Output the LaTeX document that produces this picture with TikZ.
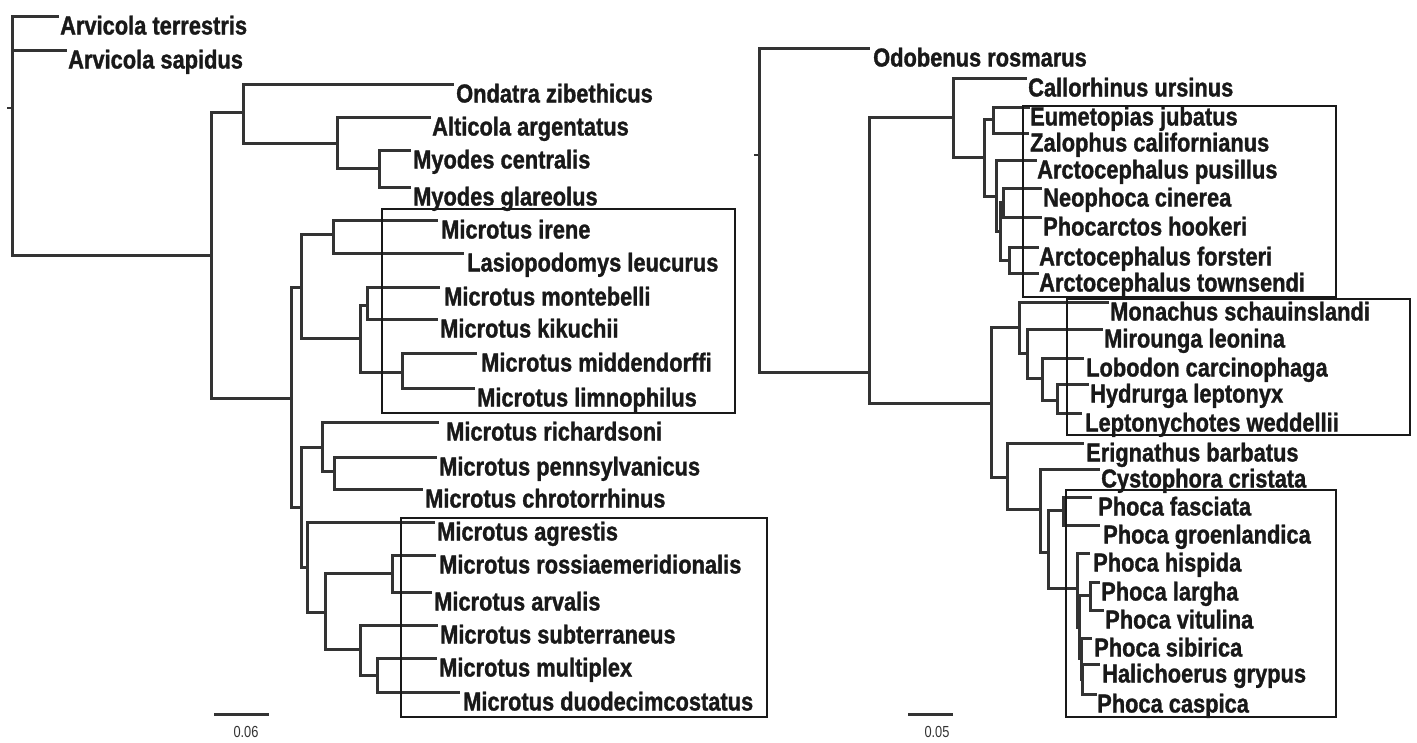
\documentclass[tikz,border=0pt]{standalone}
\usepackage{fontspec}
\newfontfamily\labfont{Liberation Sans}[FakeStretch=0.84,FakeBold=1.2]
\newfontfamily\sbfont{Liberation Sans}[FakeStretch=0.8]
\definecolor{treegray}{gray}{0.2}
\tikzset{
  br/.style={draw=treegray, line width=3pt, line cap=rect},
  lab/.style={anchor=base west, inner sep=0pt, font=\labfont\bfseries\fontsize{26}{26}\selectfont, text=black!90},
  framebox/.style={draw=black!90, line width=1.8pt},
  sblab/.style={inner sep=0pt, font=\sbfont\fontsize{16}{16}\selectfont, text=black!80},
  tick/.style={draw=treegray, line width=2.4pt}
}
% leaf: name, x0, y, x1, labelx, text
\newcommand\leaf[6]{\draw[br] (#2,#3) -- (#4,#3);
  \node[lab] (#1) at (#5,#3+18.5) {#6};}
% internal node: x, ytop, ybottom
\newcommand\vl[3]{\draw[br] (#1,#2) -- (#1,#3);}
% horizontal: x0, x1, y
\newcommand\hl[3]{\draw[br] (#1,#3) -- (#2,#3);}
\begin{document}
\begin{tikzpicture}[x=1pt,y=-1pt]
\useasboundingbox (0,0) rectangle (1417,742);
\fill[white] (0,0) rectangle (1417,742);

% ================= LEFT TREE =================
\draw[tick] (7,108) -- (12,108);
\vl{12}{16}{255}
\leaf{at}{12}{16}{57}{60}{Arvicola terrestris}
\leaf{as}{12}{50}{65}{68}{Arvicola sapidus}
\hl{12}{211}{255}
\vl{211}{112}{398}
\hl{211}{243}{112}
\vl{243}{84}{143}
\leaf{oz}{243}{84}{452}{456}{Ondatra zibethicus}
\hl{243}{337}{143}
\vl{337}{117}{168}
\leaf{aa}{337}{117}{429}{432}{Alticola argentatus}
\hl{337}{379}{168}
\vl{379}{150}{187}
\leaf{mc}{379}{150}{409}{413}{Myodes centralis}
\leaf{mg}{379}{187}{409}{413}{Myodes glareolus}
\hl{211}{291}{398}
\vl{291}{287}{507}
\hl{291}{301}{287}
\vl{301}{234}{338}
\hl{301}{333}{234}
\vl{333}{220}{253}
\leaf{mi}{333}{220}{436}{441}{Microtus irene}
\leaf{ll}{333}{253}{462}{467}{Lasiopodomys leucurus}
\hl{301}{360}{338}
\vl{360}{305}{372}
\hl{360}{367}{305}
\vl{367}{287}{319}
\leaf{mmo}{367}{287}{438}{444}{Microtus montebelli}
\leaf{mk}{367}{319}{436}{440}{Microtus kikuchii}
\hl{360}{402}{372}
\vl{402}{353}{388}
\leaf{mmi}{402}{353}{475}{481}{Microtus middendorffi}
\leaf{mli}{402}{388}{473}{477}{Microtus limnophilus}
\hl{291}{301}{507}
\vl{301}{447}{567}
\hl{301}{322}{447}
\vl{322}{422}{471}
\leaf{mr}{322}{422}{437}{446}{Microtus richardsoni}
\hl{322}{334}{471}
\vl{334}{457}{489}
\leaf{mp}{334}{457}{435}{439}{Microtus pennsylvanicus}
\leaf{mch}{334}{489}{421}{425}{Microtus chrotorrhinus}
\hl{301}{307}{567}
\vl{307}{522}{612}
\leaf{mag}{307}{522}{433}{437}{Microtus agrestis}
\hl{307}{325}{612}
\vl{325}{573}{649}
\hl{325}{392}{573}
\vl{392}{555}{592}
\leaf{mro}{392}{555}{434}{439}{Microtus rossiaemeridionalis}
\leaf{mar}{392}{592}{430}{434}{Microtus arvalis}
\hl{325}{360}{649}
\vl{360}{625}{675}
\leaf{msu}{360}{625}{436}{440}{Microtus subterraneus}
\hl{360}{377}{675}
\vl{377}{658}{692}
\leaf{mmu}{377}{658}{435}{439}{Microtus multiplex}
\leaf{mdu}{377}{692}{458}{463}{Microtus duodecimcostatus}

\draw[framebox] (382,209) rectangle (735,413);
\draw[framebox] (401,518) rectangle (767,717);

\coordinate (sbl1) at (214,714);
\coordinate (sbl2) at (269,714);
\draw[br, line cap=butt] (sbl1) -- (sbl2);
\node[sblab] (sbll) at (246,732) {0.06};

% ================= RIGHT TREE =================
\draw[tick] (754,155) -- (759,155);
\vl{759}{48}{372}
\leaf{or}{759}{48}{868}{873}{Odobenus rosmarus}
\hl{759}{869}{372}
\vl{869}{117}{403}
\hl{869}{953}{117}
\vl{953}{78}{157}
\leaf{cu}{953}{78}{1025}{1028}{Callorhinus ursinus}
\hl{953}{984}{157}
\vl{984}{119}{196}
\hl{984}{993}{119}
\vl{993}{107}{133}
\leaf{ej}{993}{107}{1028}{1030}{Eumetopias jubatus}
\leaf{zc}{993}{133}{1027}{1030}{Zalophus californianus}
\hl{984}{996}{196}
\vl{996}{160}{231}
\leaf{ap}{996}{160}{1035}{1037}{Arctocephalus pusillus}
\hl{996}{1000}{231}
\vl{1000}{202}{260}
\hl{1000}{1003}{202}
\vl{1003}{188}{217}
\leaf{nc}{1003}{188}{1040}{1043}{Neophoca cinerea}
\leaf{ph}{1003}{217}{1040}{1043}{Phocarctos hookeri}
\hl{1000}{1009}{260}
\vl{1009}{247}{273}
\leaf{af}{1009}{247}{1037}{1039}{Arctocephalus forsteri}
\leaf{at2}{1009}{273}{1037}{1039}{Arctocephalus townsendi}

\hl{869}{991}{403}
\vl{991}{327}{477}
\hl{991}{1019}{327}
\vl{1019}{302}{353}
\leaf{ms}{1019}{302}{1107}{1110}{Monachus schauinslandi}
\hl{1019}{1027}{353}
\vl{1027}{329}{378}
\leaf{ml}{1027}{329}{1101}{1104}{Mirounga leonina}
\hl{1027}{1042}{378}
\vl{1042}{358}{400}
\leaf{lc}{1042}{358}{1082}{1086}{Lobodon carcinophaga}
\hl{1042}{1057}{400}
\vl{1057}{384}{413}
\leaf{hl}{1057}{384}{1087}{1090}{Hydrurga leptonyx}
\leaf{lw}{1057}{413}{1080}{1085}{Leptonychotes weddellii}

\hl{991}{1007}{477}
\vl{1007}{443}{509}
\leaf{eb}{1007}{443}{1082}{1086}{Erignathus barbatus}
\hl{1007}{1040}{509}
\vl{1040}{469}{552}
\leaf{cc}{1040}{469}{1098}{1101}{Cystophora cristata}
\hl{1040}{1048}{552}
\vl{1048}{510}{588}
\hl{1048}{1063}{510}
\vl{1063}{497}{525}
\leaf{pf}{1063}{497}{1090}{1098}{Phoca fasciata}
\leaf{pg}{1063}{525}{1098}{1103}{Phoca groenlandica}
\hl{1048}{1077}{588}
\vl{1077}{553}{627}
\leaf{phi}{1077}{553}{1088}{1093}{Phoca hispida}
\hl{1077}{1079}{627}
\vl{1079}{595}{658}
\hl{1079}{1090}{595}
\vl{1090}{582}{610}
\leaf{pl}{1090}{582}{1098}{1101}{Phoca largha}
\leaf{pv}{1090}{610}{1102}{1105}{Phoca vitulina}
\hl{1079}{1081}{658}
\vl{1081}{638}{679}
\leaf{psi}{1081}{638}{1090}{1094}{Phoca sibirica}
\hl{1081}{1082}{679}
\vl{1082}{664}{694}
\leaf{hg}{1082}{664}{1098}{1102}{Halichoerus grypus}
\leaf{pc}{1082}{694}{1095}{1097}{Phoca caspica}

\draw[framebox] (1023,106) rectangle (1336,297);
\draw[framebox] (1067,299) rectangle (1410,435);
\draw[framebox] (1066,490) rectangle (1336,717);

\coordinate (sbr1) at (908,714);
\coordinate (sbr2) at (953,714);
\draw[br, line cap=butt] (sbr1) -- (sbr2);
\node[sblab] (sbrl) at (937,732) {0.05};
\end{tikzpicture}
\end{document}
